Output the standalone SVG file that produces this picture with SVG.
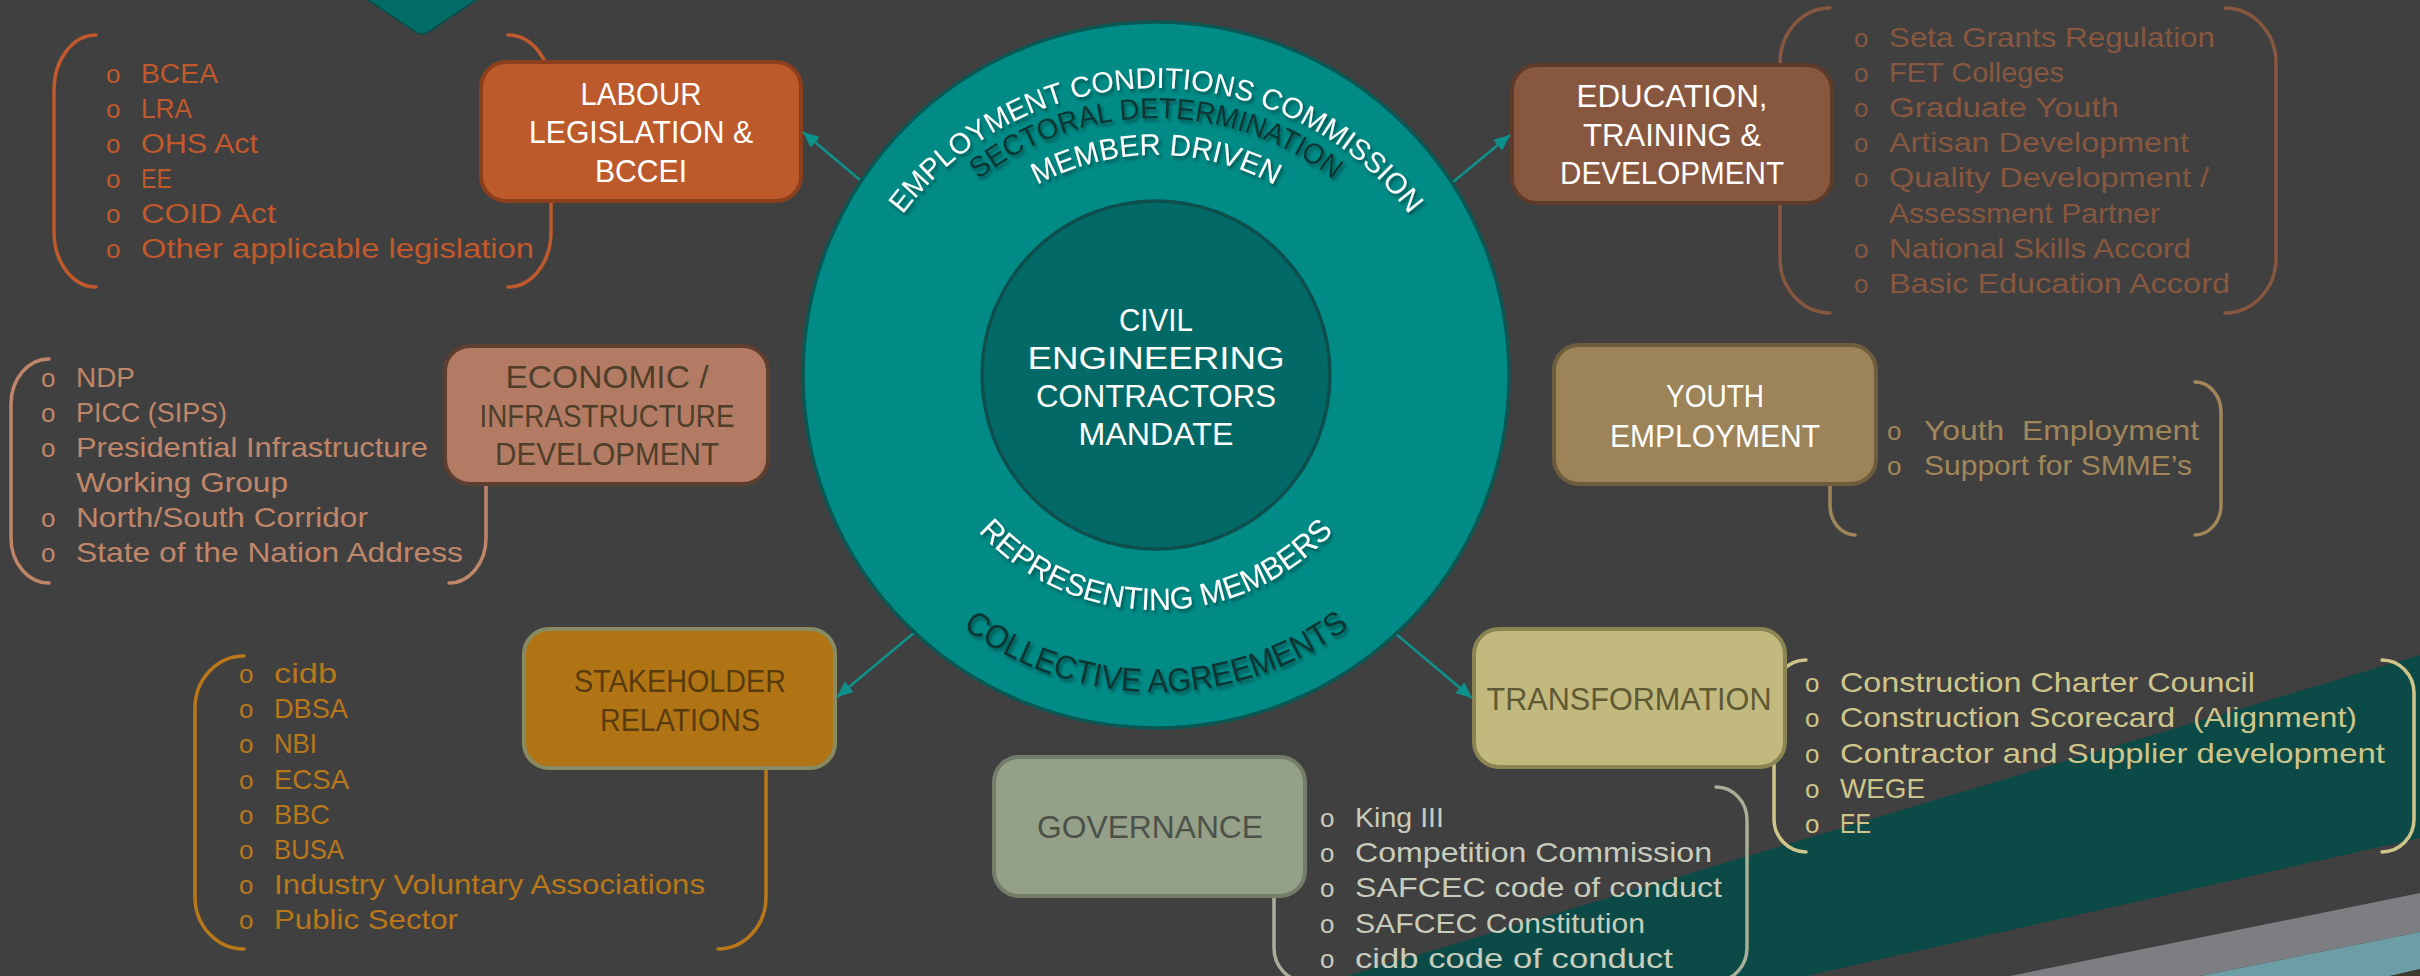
<svg xmlns="http://www.w3.org/2000/svg" width="2420" height="976" viewBox="0 0 2420 976">
<style>
text{font-family:"Liberation Sans",Arial,sans-serif;}
.lbl{font-size:31px;text-anchor:middle;}
.li{font-size:28px;}
.li27{font-size:27px;}
.bul{font-size:26px;}
.br{fill:none;stroke-width:3.5;stroke-linecap:round;}
.box{stroke-width:4;}
.arc{font-size:30px;}
.wht{fill:#ffffff;}
.drk{fill:#0b3432;}
.conn{stroke:#0d918c;stroke-width:2.6;fill:none;marker-end:url(#arr);}
</style>
<defs>
<marker id="arr" markerWidth="18" markerHeight="16" refX="16" refY="7" orient="auto" markerUnits="userSpaceOnUse"><path d="M0,0 L16,7 L0,14 Z" fill="#0d918c"/></marker>
<filter id="sh" x="-10%" y="-20%" width="120%" height="140%"><feDropShadow dx="2" dy="3" stdDeviation="1.5" flood-color="#002826" flood-opacity="0.55"/></filter>
<path id="pEmp" d="M839,405 A317,317 0 0 1 1473,405"/>
<path id="pSec" d="M869,405 A287,287 0 0 1 1443,405"/>
<path id="pMem" d="M906,405 A250,250 0 0 1 1406,405"/>
<path id="pRep" d="M916,370 A240,240 0 0 0 1396,370"/>
<path id="pCol" d="M834,370 A322,322 0 0 0 1478,370"/>
</defs>

<rect x="0" y="0" width="2420" height="976" fill="#404040"/>

<g id="background">
<path d="M362,-4 L414,31 Q422,37 430,31 L482,-4 Z" fill="#036b66" stroke="#0b4e4b" stroke-width="2"/>
<polygon points="1347,976 2420,655 2420,838 1806,976" fill="#0b4a47"/>
<polygon points="2010,976 2420,893 2420,932 2200,976" fill="#7d7e82"/>
<polygon points="2200,976 2420,932 2420,969 2390,976" fill="#6c9ea6"/>
<polygon points="2390,976 2420,969 2420,976" fill="#3d3a2e"/>
</g>

<g id="labour">
<path class="br" stroke="#c0592b" d="M96,35 A42,55 0 0 0 54,90 L54,232 A42,55 0 0 0 96,287"/>
<path class="br" stroke="#c0592b" d="M508,35 A43,55 0 0 1 551,90 L551,232 A43,55 0 0 1 508,287"/>
<rect class="box" x="481" y="62" width="320" height="139" rx="25" fill="#bd5a2c" stroke="#8c3f1d"/>
<text class="lbl wht" x="641" y="105" textLength="121" lengthAdjust="spacingAndGlyphs">LABOUR</text>
<text class="lbl wht" x="641" y="143" textLength="224" lengthAdjust="spacingAndGlyphs">LEGISLATION &amp;</text>
<text class="lbl wht" x="641" y="182" textLength="92" lengthAdjust="spacingAndGlyphs">BCCEI</text>
<g fill="#c0592b">
<text class="bul" x="106" y="83">o</text><text class="li27" x="141" y="83" textLength="77" lengthAdjust="spacingAndGlyphs">BCEA</text>
<text class="bul" x="106" y="118">o</text><text class="li27" x="141" y="118" textLength="51" lengthAdjust="spacingAndGlyphs">LRA</text>
<text class="bul" x="106" y="153">o</text><text class="li27" x="141" y="153" textLength="117" lengthAdjust="spacingAndGlyphs">OHS Act</text>
<text class="bul" x="106" y="188">o</text><text class="li27" x="141" y="188" textLength="31" lengthAdjust="spacingAndGlyphs">EE</text>
<text class="bul" x="106" y="223">o</text><text class="li27" x="141" y="223" textLength="135" lengthAdjust="spacingAndGlyphs">COID Act</text>
<text class="bul" x="106" y="258">o</text><text class="li27" x="141" y="258" textLength="393" lengthAdjust="spacingAndGlyphs">Other applicable legislation</text>
</g>
</g>

<g id="education">
<path class="br" stroke="#87573f" d="M1830,8 A50,55 0 0 0 1780,63 L1780,258 A50,55 0 0 0 1830,313"/>
<path class="br" stroke="#87573f" d="M2225,8 A51,55 0 0 1 2276,63 L2276,258 A51,55 0 0 1 2225,313"/>
<rect class="box" x="1512" y="65" width="320" height="138" rx="25" fill="#87573f" stroke="#5f3b29"/>
<text class="lbl wht" x="1672" y="107" textLength="191" lengthAdjust="spacingAndGlyphs">EDUCATION,</text>
<text class="lbl wht" x="1672" y="146" textLength="178" lengthAdjust="spacingAndGlyphs">TRAINING &amp;</text>
<text class="lbl wht" x="1672" y="184" textLength="224" lengthAdjust="spacingAndGlyphs">DEVELOPMENT</text>
<g fill="#87573f">
<text class="bul" x="1854" y="47">o</text><text class="li" x="1889" y="47" textLength="326" lengthAdjust="spacingAndGlyphs">Seta Grants Regulation</text>
<text class="bul" x="1854" y="82">o</text><text class="li" x="1889" y="82" textLength="175" lengthAdjust="spacingAndGlyphs">FET Colleges</text>
<text class="bul" x="1854" y="117">o</text><text class="li" x="1889" y="117" textLength="230" lengthAdjust="spacingAndGlyphs">Graduate Youth</text>
<text class="bul" x="1854" y="152">o</text><text class="li" x="1889" y="152" textLength="300" lengthAdjust="spacingAndGlyphs">Artisan Development</text>
<text class="bul" x="1854" y="187">o</text><text class="li" x="1889" y="187" textLength="320" lengthAdjust="spacingAndGlyphs">Quality Development /</text>
<text class="li" x="1889" y="223" textLength="271" lengthAdjust="spacingAndGlyphs">Assessment Partner</text>
<text class="bul" x="1854" y="258">o</text><text class="li" x="1889" y="258" textLength="302" lengthAdjust="spacingAndGlyphs">National Skills Accord</text>
<text class="bul" x="1854" y="293">o</text><text class="li" x="1889" y="293" textLength="341" lengthAdjust="spacingAndGlyphs">Basic Education Accord</text>
</g>
</g>

<g id="economic">
<path class="br" stroke="#c0866a" d="M49,359 A38,45 0 0 0 11,404 L11,538 A38,45 0 0 0 49,583"/>
<path class="br" stroke="#c0866a" d="M449,359 A37,45 0 0 1 486,404 L486,538 A37,45 0 0 1 449,583"/>
<rect class="box" x="445" y="346" width="323" height="138" rx="25" fill="#b37b63" stroke="#5e3e2e"/>
<g fill="#4e3e2a">
<text class="lbl" x="607" y="388" textLength="203" lengthAdjust="spacingAndGlyphs">ECONOMIC /</text>
<text class="lbl" x="607" y="427" textLength="255" lengthAdjust="spacingAndGlyphs">INFRASTRUCTURE</text>
<text class="lbl" x="607" y="465" textLength="224" lengthAdjust="spacingAndGlyphs">DEVELOPMENT</text>
</g>
<g fill="#c0866a">
<text class="bul" x="41" y="387">o</text><text class="li" x="76" y="387" textLength="59" lengthAdjust="spacingAndGlyphs">NDP</text>
<text class="bul" x="41" y="422">o</text><text class="li" x="76" y="422" textLength="151" lengthAdjust="spacingAndGlyphs">PICC (SIPS)</text>
<text class="bul" x="41" y="457">o</text><text class="li" x="76" y="457" textLength="352" lengthAdjust="spacingAndGlyphs">Presidential Infrastructure</text>
<text class="li" x="76" y="492" textLength="212" lengthAdjust="spacingAndGlyphs">Working Group</text>
<text class="bul" x="41" y="527">o</text><text class="li" x="76" y="527" textLength="292" lengthAdjust="spacingAndGlyphs">North/South Corridor</text>
<text class="bul" x="41" y="562">o</text><text class="li" x="76" y="562" textLength="387" lengthAdjust="spacingAndGlyphs">State of the Nation Address</text>
</g>
</g>

<g id="youth">
<path class="br" stroke="#a08659" d="M1855,382 A25,30 0 0 0 1830,412 L1830,505 A25,30 0 0 0 1855,535"/>
<path class="br" stroke="#a08659" d="M2195,382 A26,30 0 0 1 2221,412 L2221,505 A26,30 0 0 1 2195,535"/>
<rect class="box" x="1554" y="345" width="322" height="139" rx="25" fill="#9c8358" stroke="#6e5d3d"/>
<text class="lbl wht" x="1715" y="407" textLength="98" lengthAdjust="spacingAndGlyphs">YOUTH</text>
<text class="lbl wht" x="1715" y="447" textLength="210" lengthAdjust="spacingAndGlyphs">EMPLOYMENT</text>
<g fill="#a08659">
<text class="bul" x="1887" y="440">o</text><text class="li" x="1924" y="440" textLength="275" lengthAdjust="spacingAndGlyphs" xml:space="preserve">Youth  Employment</text>
<text class="bul" x="1887" y="475">o</text><text class="li" x="1924" y="475" textLength="268" lengthAdjust="spacingAndGlyphs">Support for SMME’s</text>
</g>
</g>

<g id="stakeholder">
<path class="br" stroke="#b8781a" d="M244,656 A49,52 0 0 0 195,708 L195,897 A49,52 0 0 0 244,949"/>
<path class="br" stroke="#b8781a" d="M718,656 A48,52 0 0 1 766,708 L766,897 A48,52 0 0 1 718,949"/>
<rect class="box" x="524" y="629" width="311" height="139" rx="25" fill="#b07414" stroke="#8a8a62"/>
<g fill="#5a3b0e">
<text class="lbl" x="680" y="692" textLength="212" lengthAdjust="spacingAndGlyphs">STAKEHOLDER</text>
<text class="lbl" x="680" y="731" textLength="160" lengthAdjust="spacingAndGlyphs">RELATIONS</text>
</g>
<g fill="#b8781a">
<text class="bul" x="239" y="683">o</text><text class="li" x="274" y="683" textLength="63" lengthAdjust="spacingAndGlyphs">cidb</text>
<text class="bul" x="239" y="718">o</text><text class="li" x="274" y="718" textLength="74" lengthAdjust="spacingAndGlyphs">DBSA</text>
<text class="bul" x="239" y="753">o</text><text class="li" x="274" y="753" textLength="43" lengthAdjust="spacingAndGlyphs">NBI</text>
<text class="bul" x="239" y="789">o</text><text class="li" x="274" y="789" textLength="75" lengthAdjust="spacingAndGlyphs">ECSA</text>
<text class="bul" x="239" y="824">o</text><text class="li" x="274" y="824" textLength="56" lengthAdjust="spacingAndGlyphs">BBC</text>
<text class="bul" x="239" y="859">o</text><text class="li" x="274" y="859" textLength="70" lengthAdjust="spacingAndGlyphs">BUSA</text>
<text class="bul" x="239" y="894">o</text><text class="li" x="274" y="894" textLength="431" lengthAdjust="spacingAndGlyphs">Industry Voluntary Associations</text>
<text class="bul" x="239" y="929">o</text><text class="li" x="274" y="929" textLength="184" lengthAdjust="spacingAndGlyphs">Public Sector</text>
</g>
</g>

<g id="transformation">
<path class="br" stroke="#cfc58a" d="M1806,660 A32,33 0 0 0 1774,693 L1774,819 A32,33 0 0 0 1806,852"/>
<path class="br" stroke="#cfc58a" d="M2382,660 A32,33 0 0 1 2414,693 L2414,819 A32,33 0 0 1 2382,852"/>
<rect class="box" x="1474" y="629" width="311" height="138" rx="25" fill="#c2b97f" stroke="#8b8553"/>
<text class="lbl" x="1629" y="710" fill="#5f5a33" textLength="285" lengthAdjust="spacingAndGlyphs">TRANSFORMATION</text>
<g fill="#cfc58a">
<text class="bul" x="1805" y="692">o</text><text class="li" x="1840" y="692" textLength="415" lengthAdjust="spacingAndGlyphs">Construction Charter Council</text>
<text class="bul" x="1805" y="727">o</text><text class="li" x="1840" y="727" textLength="517" lengthAdjust="spacingAndGlyphs" xml:space="preserve">Construction Scorecard  (Alignment)</text>
<text class="bul" x="1805" y="763">o</text><text class="li" x="1840" y="763" textLength="545" lengthAdjust="spacingAndGlyphs">Contractor and Supplier development</text>
<text class="bul" x="1805" y="798">o</text><text class="li" x="1840" y="798" textLength="85" lengthAdjust="spacingAndGlyphs">WEGE</text>
<text class="bul" x="1805" y="833">o</text><text class="li" x="1840" y="833" textLength="31" lengthAdjust="spacingAndGlyphs">EE</text>
</g>
</g>

<g id="governance">
<path class="br" stroke="#a9ae99" d="M1305,787 A31,33 0 0 0 1274,820 L1274,948 A31,33 0 0 0 1305,981"/>
<path class="br" stroke="#a9ae99" d="M1716,787 A31,33 0 0 1 1747,820 L1747,948 A31,33 0 0 1 1716,981"/>
<rect class="box" x="994" y="757" width="311" height="139" rx="25" fill="#94a087" stroke="#737d69"/>
<text class="lbl" x="1150" y="838" fill="#4c5249" textLength="226" lengthAdjust="spacingAndGlyphs">GOVERNANCE</text>
<g fill="#c8ccbc">
<text class="bul" x="1320" y="827">o</text><text class="li" x="1355" y="827" textLength="89" lengthAdjust="spacingAndGlyphs">King III</text>
<text class="bul" x="1320" y="862">o</text><text class="li" x="1355" y="862" textLength="357" lengthAdjust="spacingAndGlyphs">Competition Commission</text>
<text class="bul" x="1320" y="897">o</text><text class="li" x="1355" y="897" textLength="367" lengthAdjust="spacingAndGlyphs">SAFCEC code of conduct</text>
<text class="bul" x="1320" y="933">o</text><text class="li" x="1355" y="933" textLength="290" lengthAdjust="spacingAndGlyphs">SAFCEC Constitution</text>
<text class="bul" x="1320" y="968">o</text><text class="li" x="1355" y="968" textLength="318" lengthAdjust="spacingAndGlyphs">cidb code of conduct</text>
</g>
</g>

<g id="connectors">
<line class="conn" x1="860" y1="180" x2="803" y2="132"/>
<line class="conn" x1="1453" y1="182" x2="1510" y2="135"/>
<line class="conn" x1="915" y1="632" x2="837" y2="697"/>
<line class="conn" x1="1396" y1="634" x2="1472" y2="698"/>
</g>

<g id="mandate">
<circle cx="1156" cy="375" r="353" fill="#008b86" stroke="#0a5753" stroke-width="3.5"/>
<circle cx="1156" cy="375" r="174" fill="#036966" stroke="#0c4f4c" stroke-width="3.5"/>
<text class="lbl wht" x="1156" y="331" textLength="74" lengthAdjust="spacingAndGlyphs">CIVIL</text>
<text class="lbl wht" x="1156" y="369" textLength="257" lengthAdjust="spacingAndGlyphs">ENGINEERING</text>
<text class="lbl wht" x="1156" y="407" textLength="240" lengthAdjust="spacingAndGlyphs">CONTRACTORS</text>
<text class="lbl wht" x="1156" y="445" textLength="155" lengthAdjust="spacingAndGlyphs">MANDATE</text>
<g filter="url(#sh)">
<text class="wht" font-size="29" text-anchor="middle"><textPath href="#pEmp" startOffset="50%" textLength="587" lengthAdjust="spacingAndGlyphs">EMPLOYMENT CONDITIONS COMMISSION</textPath></text>
<text class="drk" font-size="29" text-anchor="middle"><textPath href="#pSec" startOffset="50%" textLength="383" lengthAdjust="spacingAndGlyphs">SECTORAL DETERMINATION</textPath></text>
<text class="wht" font-size="30" text-anchor="middle"><textPath href="#pMem" startOffset="50%" textLength="248" lengthAdjust="spacingAndGlyphs">MEMBER DRIVEN</textPath></text>
<text class="wht" font-size="31" text-anchor="middle"><textPath href="#pRep" startOffset="50%" textLength="400" lengthAdjust="spacingAndGlyphs">REPRESENTING MEMBERS</textPath></text>
<text class="drk" font-size="33" text-anchor="middle"><textPath href="#pCol" startOffset="50%" textLength="415" lengthAdjust="spacingAndGlyphs">COLLECTIVE AGREEMENTS</textPath></text>
</g>
</g>
</svg>
